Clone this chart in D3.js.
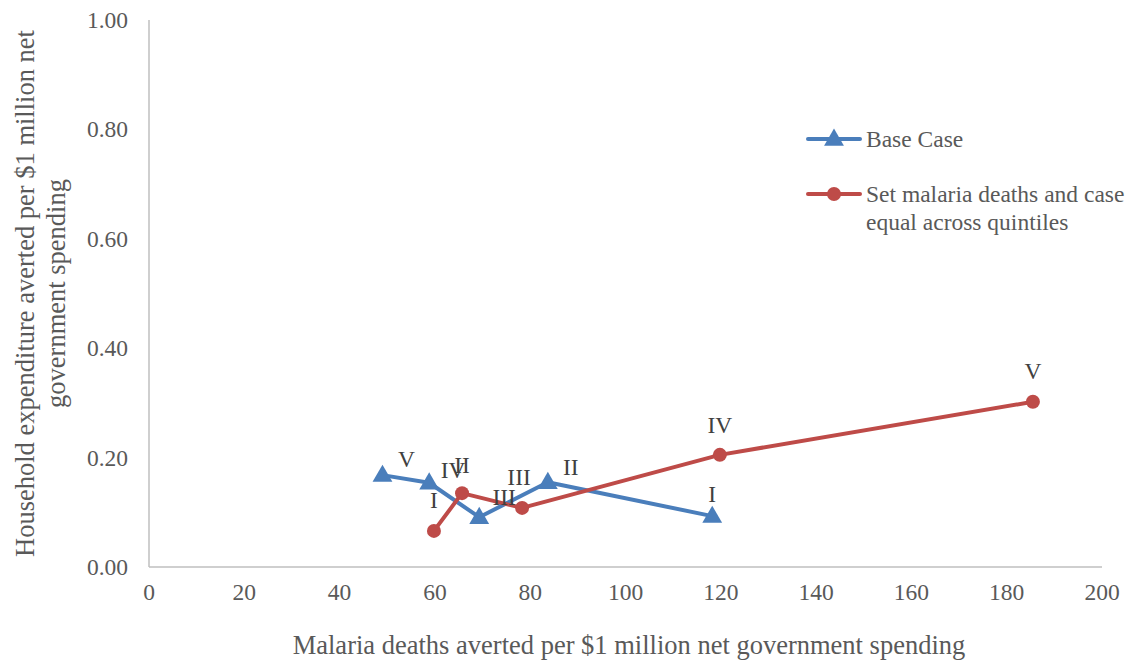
<!DOCTYPE html>
<html>
<head>
<meta charset="utf-8">
<script src="https://cdn.jsdelivr.net/npm/d3@7"></script>
<style>
  body { margin: 0; background: #fff; }
  svg text { font-family: "Liberation Serif", "Times New Roman", serif; fill: #595959; }
</style>
</head>
<body>
<div id="plot"></div>
<script>
const quintiles = ["I", "II", "III", "IV", "V"]
const baseDeaths = [118.2, 83.7, 69.3, 58.8, 49.0]
const baseHousehold = [0.093, 0.155, 0.091, 0.154, 0.168]
const equalDeaths = [59.8, 65.7, 78.3, 119.8, 185.5]
const equalHousehold = [0.066, 0.135, 0.108, 0.205, 0.302]
const xTicks = [0, 20, 40, 60, 80, 100, 120, 140, 160, 180, 200]
const yTicks = [0, 0.2, 0.4, 0.6, 0.8, 1.0]
const seriesNames = ["Base Case", "Set malaria deaths and case equal across quintiles"]

const w = 1129, h = 662,
    margin = {top: 20, right: 27, bottom: 95, left: 149},
    x = d3.scaleLinear().domain([0, 200]).range([margin.left, w - margin.right]),
    y = d3.scaleLinear().domain([0, 1]).range([h - margin.bottom, margin.top])

// label offsets per point (px), Excel-style manual placement
const baseLabelOff = [[0, -22], [23, -15], [25, -20], [24, -13], [24, -16]]
const equalLabelOff = [[0, -31], [0, -28], [-3, -31], [0, -30], [0, -31]]

const series = [
  {name: seriesNames[0], color: "#4a7ebb", shape: "tri",
   pts: quintiles.map((q, i) => ({q, x: baseDeaths[i], y: baseHousehold[i], off: baseLabelOff[i]}))},
  {name: seriesNames[1], color: "#be4b48", shape: "circle",
   pts: quintiles.map((q, i) => ({q, x: equalDeaths[i], y: equalHousehold[i], off: equalLabelOff[i]}))}
]

const svg = d3.select("#plot").append("svg")
  .attr("width", w).attr("height", h)

// axes
svg.append("line")
  .attr("x1", x(0)).attr("x2", x(0)).attr("y1", y(1)).attr("y2", y(0))
  .attr("stroke", "#bfbfbf").attr("stroke-width", 1.5)
svg.append("line")
  .attr("x1", x(0)).attr("x2", x(200)).attr("y1", y(0)).attr("y2", y(0))
  .attr("stroke", "#bfbfbf").attr("stroke-width", 1.5)

svg.selectAll(".ytick").data(yTicks).enter().append("text")
  .attr("x", x(0) - 21).attr("y", d => y(d) + 8)
  .attr("text-anchor", "end").style("font-size", "23.5px")
  .text(d => d.toFixed(2))

svg.selectAll(".xtick").data(xTicks).enter().append("text")
  .attr("x", d => x(d)).attr("y", y(0) + 33)
  .attr("text-anchor", "middle").style("font-size", "23.5px")
  .text(d => d)

svg.append("text")
  .attr("x", 629).attr("y", 654)
  .attr("text-anchor", "middle").style("font-size", "26.5px")
  .text("Malaria deaths averted per $1 million net government spending")

const yt = svg.append("text")
  .attr("transform", `translate(0, ${y(0.5)}) rotate(-90)`)
  .attr("text-anchor", "middle").style("font-size", "26.5px")
yt.append("tspan").attr("x", 0).attr("y", 34).text("Household  expenditure averted per $1 million net")
yt.append("tspan").attr("x", 0).attr("y", 65).text("government spending")

const triangle = d3.symbol().type(d3.symbolTriangle).size(170)

const marker = (sel, s) => {
  if (s.shape === "tri") {
    sel.append("path").attr("d", triangle).attr("fill", s.color)
      .attr("transform", "translate(0,1)")
  } else {
    sel.append("circle").attr("r", 7).attr("fill", s.color)
  }
}

series.forEach(s => {
  const g = svg.append("g")
  g.append("path")
    .datum(s.pts)
    .attr("fill", "none").attr("stroke", s.color).attr("stroke-width", 4)
    .attr("stroke-linejoin", "round")
    .attr("d", d3.line().x(d => x(d.x)).y(d => y(d.y)))
  g.selectAll(".m").data(s.pts).enter().append("g")
    .attr("transform", d => `translate(${x(d.x)},${y(d.y)})`)
    .each(function() { marker(d3.select(this), s) })
})

series.forEach(s => {
  svg.selectAll(null).data(s.pts).enter().append("text")
    .attr("x", d => x(d.x) + d.off[0]).attr("y", d => y(d.y) + d.off[1] + 8)
    .attr("text-anchor", "middle").style("font-size", "23.5px").style("fill", "#404040")
    .text(d => d.q)
})

// legend
const legY = [139, 194]
series.forEach((s, i) => {
  const lg = svg.append("g").attr("transform", `translate(808, ${legY[i]})`)
  lg.append("line").attr("x1", 0).attr("x2", 52).attr("stroke", s.color).attr("stroke-width", 4)
    .attr("stroke-linecap", "round")
  const m = lg.append("g").attr("transform", "translate(26,0)")
  marker(m, s)
  const t = lg.append("text").attr("x", 58).attr("y", 8).style("font-size", "23.5px")
  if (i === 0) {
    t.text(s.name)
  } else {
    t.append("tspan").attr("x", 58).text("Set malaria deaths and case")
    t.append("tspan").attr("x", 58).attr("dy", 28).text("equal across quintiles")
  }
})
</script>
</body>
</html>
